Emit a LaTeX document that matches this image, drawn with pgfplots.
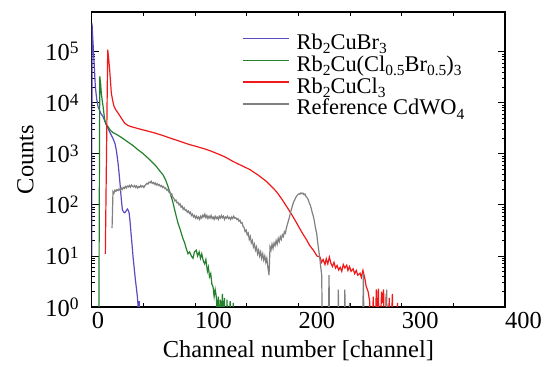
\documentclass[border=0pt]{standalone}
\usepackage{fontspec}
\setmainfont{Liberation Serif}
\usepackage{pgfplots}
\pgfplotsset{compat=1.18}
\definecolor{cblue}{RGB}{88,76,190}
\definecolor{cgreen}{RGB}{36,128,44}
\definecolor{cred}{RGB}{240,24,24}
\definecolor{cgray}{RGB}{128,128,128}
\newcommand{\tp}[1]{10\raisebox{6.7bp}{\fontsize{17.5}{20}\selectfont #1}}
\newcommand{\sub}[1]{\raisebox{-4.5bp}{\fontsize{15.5}{18}\selectfont #1}}
\newcommand{\lst}{\rule[-6.7bp]{0pt}{23bp}}
\begin{document}
\begin{tikzpicture}
\begin{axis}[
  scale only axis, width=413.3bp, height=295bp,
  xmin=0, xmax=400, ymode=log, ymin=1, ymax=6e5,
  axis line style={line width=1.1bp},
  every tick/.style={black, line width=0.8bp},
  tick align=inside,
  xtick={0,50,...,400},
  xticklabels={0,,100,,200,,300,,400},
  ytick={1,10,100,1000,10000,100000},
  yticklabels={\tp{0},\tp{1},\tp{2},\tp{3},\tp{4},\tp{5}},
  major tick length=7.5bp, minor tick length=3.5bp,
  xtick style={/pgfplots/major tick length=4.5bp},
  tick label style={font=\fontsize{24.5}{29}\selectfont},
  xticklabel style={anchor=north west, inner sep=0pt, yshift=-4.7bp},
  yticklabel style={anchor=east, inner sep=0pt, xshift=-13bp},
  label style={font=\fontsize{24.5}{29}\selectfont},
  xlabel={Channeal number [channel]},
  ylabel={Counts},
  xlabel style={at={(axis description cs:0.5,-0.1712)}, anchor=base},
  ylabel style={at={(axis description cs:-0.1413,0.5)}, anchor=base},
  legend cell align=left,
  legend image code/.code={\draw[#1] (0bp,3.5bp) -- (46bp,3.5bp);},
  legend image post style={line width=1.7bp},
  legend style={draw=none, fill=none, at={(0.3637,0.9349)}, anchor=north west,
    inner sep=0pt, outer sep=0pt, row sep=0pt, column sep=5bp,
    font=\fontsize{22.5}{27}\selectfont},
  every axis plot/.append style={line width=1.2bp},
]
\addplot[color=cblue] coordinates {(0,10) (0.3,3.6e5) (1.2,1.6e5) (2.2,6.9e4) (3.5,2.1e4) (4.8,1.2e4) (6.1,8.5e3) (8.6,6.3e3) (10.9,5.4e3) (14.1,3.7e3) (17.4,2.7e3) (20.6,2.0e3) (22.5,1.6e3) (23.8,1.2e3) (25.5,660) (27.1,310) (28.7,126) (29.7,80) (31,72) (32,70) (33.3,76) (34.6,83) (35.4,78) (36.2,70) (37,50) (37.8,32) (39,17) (40,9.7) (41.2,5.6) (42.3,3.4) (43.3,2.3) (44.2,1.6) (44.8,1.1) (45.3,0.1) (46,1.3) (46.5,0.1)};
\addlegendentry{\lst Rb\sub{2}CuBr\sub{3}}
\addplot[color=cgreen] coordinates {(6.8,0.1) (7.8,3.3e4) (8.6,2.4e4) (9.3,1.55e4) (10.2,1.1e4) (11,8.5e3) (12.6,4.6e3) (14,3.8e3) (15.8,3.4e3) (18,2.9e3) (20.6,2.6e3) (24,2.4e3) (27.1,2.2e3) (31,1.95e3) (35.1,1.7e3) (40,1.45e3) (44.8,1.2e3) (50,1.0e3) (54.5,825) (58.5,690) (62.6,565) (66,460) (69,388) (71.5,310) (73.8,230) (75.5,180) (77,145) (78.7,110) (80.3,80) (82,58) (83.5,44) (85,36) (86.7,28) (88.3,22) (90,18) (91.5,14) (93.2,11) (94.8,12) (96.4,10) (98,9) (99.5,12) (101.2,13) (102.5,10) (104,12) (105.3,9) (106.5,11) (108,8) (109.3,7) (110.5,8.5) (112,5) (113,6) (114,3.9) (115.2,4.5) (116.3,2.8) (117.4,2.5) (118.5,1.6) (119.5,2.2) (120.6,1.6) (121.5,0.6) (122.5,1.6) (123.5,0.5) (124.5,1.4) (125.5,0.6) (126.5,1.8) (127.5,0.5) (128.5,1.5) (129.5,0.1) (131,1.4) (132,0.1) (134,1.3) (135,0.1) (137,1.2) (138,0.1)};
\addlegendentry{\lst Rb\sub{2}Cu(Cl\sub{0.5}Br\sub{0.5})\sub{3}}
\addplot[color=cred] coordinates {(13.2,11) (15.5,1.1e5) (16.5,7e4) (17.4,4.4e4) (18.2,2.6e4) (19,1.55e4) (20.3,1.1e4) (21.6,8.5e3) (23.5,7.2e3) (25.5,6.3e3) (28.7,5e3) (31.9,4e3) (35,3.6e3) (38.3,3.4e3) (43,3.2e3) (48,3e3) (54,2.8e3) (61,2.56e3) (69,2.28e3) (77,2e3) (85,1.77e3) (93.2,1.55e3) (101,1.4e3) (109.3,1.25e3) (116,1.12e3) (122,1e3) (129,870) (137,705) (145,590) (153.2,490) (161,385) (169.4,285) (174,230) (179,180) (184,130) (188.7,93) (193.5,65) (198.4,44) (203,30) (208,20.6) (211,16) (214.5,13) (218,10) (221,9.5) (222.5,7.5) (224,8.5) (225.8,6.8) (227,8.8) (228.5,7) (230,9.5) (231.5,7.2) (233,6.2) (234.5,7.5) (236,5.8) (237.5,6.5) (239,5.3) (240.5,6) (242,5) (243.5,6.8) (245,5.8) (246.8,6.6) (248,5.2) (249.5,6.2) (251,5) (253,5.6) (254.5,4.5) (256,5.2) (257.5,4.2) (259.7,4.6) (261,3.8) (262.5,5.2) (264.5,3.5) (265.5,2.6) (267.5,2.0) (269,1.3) (270.5,0.1) (272.5,1.6) (273.5,0.1) (275.5,2.2) (276.5,0.6) (277.5,2.3) (278.5,0.1) (280.5,2.0) (281.5,1.2) (282.5,2.2) (283.5,0.1) (285,1.8) (286,0.1) (288,1.5) (289,0.1) (291,1.8) (292,0.1) (296,1.2) (297,0.1)};
\addlegendentry{\lst Rb\sub{2}CuCl\sub{3}}
\addplot[color=cgray] coordinates {(19.7,35) (20.6,182) (21.5,170) (22.5,195) (23.5,185) (24.5,200) (25.5,190) (26.5,205) (27.5,195) (28.5,215) (29.5,200) (30.5,220) (31.5,210) (32.5,230) (33.5,215) (34.5,235) (35.5,225) (36.5,240) (37.5,222) (38.5,245) (39.5,230) (40.5,225) (41.5,240) (42.5,220) (43.5,235) (44.5,215) (45.5,230) (46.5,220) (47.5,240) (48.5,225) (49.5,235) (50.5,220) (51.5,240) (52.5,250) (53.5,265) (54.5,255) (55.5,280) (56.5,270) (57.5,290) (58.5,265) (59.5,275) (60.5,255) (61.5,270) (62.5,245) (63.5,260) (64.5,240) (65.5,250) (66.5,230) (67.5,240) (68.5,220) (69.5,230) (70.5,210) (71.5,215) (72.5,195) (73.5,200) (74.5,180) (75.5,182) (76.5,160) (77.5,165) (78.5,140) (79.5,135) (80.5,120) (81.5,125) (82.5,110) (83.5,112) (84.5,100) (85.5,105) (86.5,90) (87.5,95) (88.5,82) (89.5,88) (90.5,78) (91.5,80) (92.5,72) (93.5,76) (94.5,68) (95.5,72) (96.5,62) (97.5,66) (98.5,58) (99.5,62) (100.5,55) (101.5,60) (102.5,54) (103.5,58) (104.5,52) (105.5,60) (106.5,55) (107.5,63) (108.5,58) (109.5,66) (110.5,56) (111.5,62) (112.5,54) (113.5,60) (114.5,55) (115.5,62) (116.5,54) (117.5,58) (118.5,52) (119.5,60) (120.5,54) (121.5,58) (122.5,52) (123.5,60) (124.5,55) (125.5,62) (126.5,56) (127.5,60) (128.5,52) (129.5,58) (130.5,55) (131.5,60) (132.5,54) (133.5,57) (134.5,52) (135.5,58) (136.5,54) (137.5,60) (138.5,55) (139.5,56) (140.5,52) (141.5,54) (142.5,48) (143.5,50) (144.5,44) (145.5,45) (146.5,38) (147.5,36) (148.5,30) (149.5,32) (150.5,26) (151.5,28) (152.5,21) (153.5,24) (154.5,18) (155.5,20) (156.5,15) (157.5,17) (158.5,13) (159.5,15) (160.5,11) (161.5,13) (162.5,10) (163.5,12) (164.5,9) (165.5,11) (166.5,8.3) (167.5,10) (168.5,7.5) (169.5,9) (170.5,6) (171.6,4.2) (172.6,15) (173.5,13) (174.5,17) (175.5,14) (176.5,18) (177.5,16) (178.5,20) (179.5,17) (180.5,22) (181.5,19) (182.5,24) (183.5,21) (184.5,26) (185.5,24) (186.5,30) (187.5,28) (188.5,36) (189.5,42) (190.5,50) (191.5,59) (192.5,72) (193.5,85) (194.5,100) (195.5,115) (196.5,126) (197.5,140) (198.5,150) (199.5,158) (200.5,165) (201.5,162) (202.5,172) (203.5,165) (204.5,170) (205.5,158) (206.4,163) (207.5,145) (208.5,138) (209.6,126) (210.5,110) (211.5,100) (212.5,85) (213.5,70) (214.5,60) (215.5,48) (216.5,36) (217.7,28) (218.5,20) (219.5,14) (220.5,10) (221.5,6.5) (222.6,4.2) (223.5,0.1) (228.5,0.1) (229.7,4.2) (230.5,0.1) (237.8,0.1) (238.7,2.2) (239.5,0.1) (244.2,0.1) (245,2.2) (245.8,0.1) (249,0.1) (249.5,1.2) (250,0.1) (262,0.1) (262.9,4.5) (263.8,0.1) (284.6,0.1) (285.5,2.2) (286.4,0.1)};
\addlegendentry{\lst Reference CdWO\sub{4}}
\coordinate (SW) at (rel axis cs:0,0);
\coordinate (NE) at (rel axis cs:1,1);
\end{axis}
\path ([shift={(-91.7bp,-60bp)}]SW) rectangle ([shift={(43bp,12bp)}]NE);
\end{tikzpicture}
\end{document}
